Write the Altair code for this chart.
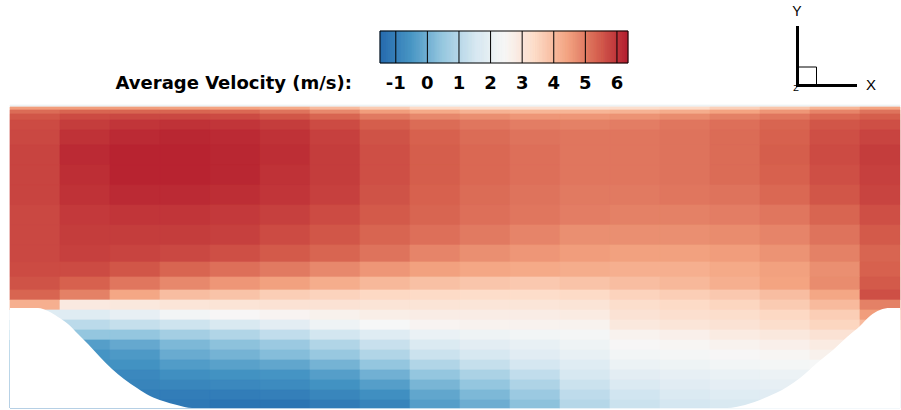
import altair as alt
import numpy as np
import pandas as pd

# ---------------- data ----------------
# cell column edges (streamwise, data units) and row edges (wall-normal, data units)
col_edges = [0, 50, 100, 150, 200, 250, 300, 350, 400, 450, 500, 550, 600, 650, 700, 750, 800, 850, 890]
row_edges = [303, 301, 298, 294, 288, 278, 263, 243, 223, 203, 183, 163, 146, 131, 118, 108,
             98, 88, 78, 68, 58, 48, 38, 28, 18, 8, 0]

# average velocity (m/s), one list per row from top to bottom, one value per column
velocity = [
    [2.2] * 18,
    [4.5, 4.5, 4.5, 4.45, 4.4, 4.3, 4.0, 3.7, 3.4, 3.3, 3.25, 3.25, 3.3, 3.4, 3.6, 3.8, 4.1, 4.4],
    [5.2, 5.3, 5.3, 5.3, 5.25, 5.1, 4.8, 4.5, 4.3, 4.15, 4.1, 4.1, 4.15, 4.25, 4.4, 4.6, 4.85, 5.1],
    [5.5, 5.65, 5.7, 5.7, 5.65, 5.5, 5.3, 5.0, 4.8, 4.7, 4.6, 4.6, 4.65, 4.75, 4.9, 5.05, 5.25, 5.4],
    [5.65, 5.85, 5.95, 6.0, 5.95, 5.85, 5.65, 5.4, 5.2, 5.05, 4.95, 4.9, 4.95, 5.05, 5.15, 5.3, 5.5, 5.6],
    [5.7, 6.0, 6.1, 6.15, 6.1, 6.0, 5.8, 5.55, 5.35, 5.2, 5.1, 5.05, 5.05, 5.1, 5.2, 5.35, 5.6, 5.75],
    [5.75, 6.1, 6.2, 6.2, 6.15, 6.05, 5.85, 5.6, 5.4, 5.25, 5.15, 5.05, 5.05, 5.1, 5.2, 5.4, 5.65, 5.85],
    [5.75, 6.05, 6.2, 6.2, 6.15, 6.0, 5.85, 5.6, 5.4, 5.25, 5.15, 5.05, 5.05, 5.1, 5.2, 5.35, 5.6, 5.8],
    [5.75, 6.0, 6.1, 6.1, 6.05, 5.95, 5.8, 5.55, 5.35, 5.2, 5.1, 5.0, 5.0, 5.05, 5.1, 5.25, 5.5, 5.75],
    [5.7, 5.9, 5.95, 5.95, 5.9, 5.8, 5.65, 5.45, 5.3, 5.15, 5.05, 4.95, 4.9, 4.9, 4.95, 5.05, 5.3, 5.6],
    [5.7, 5.85, 5.85, 5.85, 5.8, 5.65, 5.5, 5.3, 5.15, 5.0, 4.85, 4.7, 4.7, 4.7, 4.75, 4.85, 5.1, 5.45],
    [5.7, 5.8, 5.75, 5.7, 5.6, 5.45, 5.3, 5.1, 4.85, 4.7, 4.6, 4.5, 4.45, 4.45, 4.5, 4.65, 4.9, 5.3],
    [5.65, 5.65, 5.5, 5.3, 5.15, 5.0, 4.8, 4.6, 4.45, 4.35, 4.3, 4.25, 4.2, 4.2, 4.3, 4.45, 4.7, 5.35],
    [5.55, 5.35, 5.05, 4.8, 4.6, 4.45, 4.25, 4.05, 3.9, 3.8, 3.75, 3.85, 3.95, 4.05, 4.2, 4.4, 4.75, 5.45],
    [5.3, 4.9, 4.35, 3.95, 3.85, 3.65, 3.55, 3.45, 3.4, 3.35, 3.35, 3.4, 3.55, 3.65, 3.75, 3.95, 4.35, 5.6],
    [4.2, 2.9, 2.95, 3.05, 3.1, 3.15, 3.15, 3.1, 3.1, 3.05, 3.05, 3.1, 3.3, 3.4, 3.5, 3.7, 4.0, 4.9],
    [1.8, 1.8, 2.0, 2.3, 2.45, 2.55, 2.65, 2.75, 2.8, 2.8, 2.8, 2.85, 3.15, 3.25, 3.3, 3.45, 3.65, 4.5],
    [1.1, 1.1, 1.25, 1.4, 1.65, 1.9, 2.2, 2.4, 2.55, 2.6, 2.6, 2.6, 2.95, 3.05, 3.15, 3.3, 3.5, 4.0],
    [0.5, 0.5, 0.5, 0.75, 0.95, 1.2, 1.5, 1.8, 2.1, 2.2, 2.3, 2.35, 2.6, 2.7, 2.85, 2.95, 3.15, 3.5],
    [-0.3, -0.3, -0.1, 0.2, 0.4, 0.6, 0.95, 1.3, 1.7, 1.9, 2.05, 2.2, 2.45, 2.5, 2.6, 2.7, 2.85, 3.0],
    [-0.5, -0.5, -0.4, -0.05, 0.1, 0.3, 0.55, 0.95, 1.35, 1.6, 1.85, 2.05, 2.3, 2.35, 2.45, 2.5, 2.65, 2.8],
    [-0.55, -0.55, -0.55, -0.35, -0.25, -0.15, 0.1, 0.5, 0.95, 1.25, 1.55, 1.8, 2.15, 2.2, 2.3, 2.35, 2.4, 2.5],
    [-0.75, -0.75, -0.75, -0.6, -0.55, -0.5, -0.3, 0.05, 0.5, 0.85, 1.2, 1.6, 1.9, 2.0, 2.1, 2.15, 2.2, 2.3],
    [-0.85, -0.85, -0.85, -0.8, -0.75, -0.7, -0.55, -0.3, 0.15, 0.5, 0.9, 1.35, 1.7, 1.85, 1.95, 2.0, 2.05, 2.1],
    [-1.0, -1.0, -1.0, -1.0, -1.0, -0.95, -0.8, -0.6, -0.15, 0.2, 0.6, 1.15, 1.45, 1.7, 1.8, 1.85, 1.9, 1.9],
    [-1.1, -1.1, -1.1, -1.1, -1.2, -1.2, -1.05, -0.85, -0.3, 0.0, 0.4, 1.0, 1.35, 1.55, 1.65, 1.7, 1.7, 1.7],
]

# lower wall profile (streamwise position, wall height)
wall_x = [0, 28, 38, 48, 58, 68, 78, 90, 102, 114, 127, 140, 153, 167, 182,
          717, 735, 757, 777, 790, 807, 823, 837, 850, 860, 870, 880, 890]
wall_y = [100, 100, 97, 91, 84, 74, 64, 51, 39, 29, 20, 12, 7, 3, 0,
          0, 3, 11, 21, 30, 45, 58, 71, 82, 92, 98, 100, 100]

# colour bar
cb_min, cb_max = -1.5, 6.35
cb_ticks = [-1, 0, 1, 2, 3, 4, 5, 6]
cb_title = "Average Velocity (m/s):"
rdbu = ["#2166ac", "#4393c3", "#92c5de", "#d1e5f0", "#f7f7f7",
        "#fddbc7", "#f4a582", "#d6604d", "#b2182b"]

# ---------------- tables ----------------
cells = []
for i in range(len(row_edges) - 1):
    for j in range(len(col_edges) - 1):
        cells.append({"x0": col_edges[j], "x1": col_edges[j + 1],
                      "y0": row_edges[i + 1], "y1": row_edges[i],
                      "v": velocity[i][j]})
cells = pd.DataFrame(cells)
wall = pd.DataFrame({"x": wall_x, "y": wall_y})

step = 0.025
cb_v = np.arange(cb_min, cb_max, step)
cb = pd.DataFrame({"a": cb_v, "b": np.minimum(cb_v + step, cb_max), "v": cb_v + step / 2})
ticks = pd.DataFrame({"t": cb_ticks, "lab": [str(t) for t in cb_ticks]})

cdomain = list(np.linspace(cb_min, cb_max, len(rdbu)))
cscale = alt.Scale(domain=cdomain, range=rdbu, interpolate="rgb", clamp=True)

xs = alt.Scale(domain=[0, 890], range=[10, 900], nice=False, zero=False)
ys = alt.Scale(domain=[0, 303], range=[408, 105], nice=False, zero=False)
cbs = alt.Scale(domain=[cb_min, cb_max], range=[380, 628], nice=False, zero=False)

FONT = "DejaVu Sans"

field = alt.Chart(cells).mark_rect(strokeWidth=0.7).encode(
    x=alt.X("x0:Q", scale=xs, axis=None), x2="x1",
    y=alt.Y("y0:Q", scale=ys, axis=None), y2="y1",
    color=alt.Color("v:Q", scale=cscale, legend=None),
    stroke=alt.Stroke("v:Q", scale=cscale, legend=None),
)

mask = alt.Chart(wall).mark_area(color="white", opacity=1, interpolate="monotone").encode(
    x=alt.X("x:Q", scale=xs, axis=None),
    y=alt.Y("y:Q", scale=ys, axis=None),
    y2=alt.datum(0),
)

bar = alt.Chart(cb).mark_rect(strokeWidth=0.6).encode(
    x=alt.X("a:Q", scale=cbs, axis=None), x2="b",
    y=alt.value(31), y2=alt.value(63),
    color=alt.Color("v:Q", scale=cscale, legend=None),
    stroke=alt.Stroke("v:Q", scale=cscale, legend=None),
)

dividers = alt.Chart(ticks).mark_rule(color="black", strokeWidth=1).encode(
    x=alt.X("t:Q", scale=cbs, axis=None),
    y=alt.value(31), y2=alt.value(63),
)

border = alt.Chart(pd.DataFrame({"a": [cb_min], "b": [cb_max]})).mark_rect(
    filled=False, stroke="black", strokeWidth=1
).encode(
    x=alt.X("a:Q", scale=cbs, axis=None), x2="b",
    y=alt.value(31), y2=alt.value(63),
)

labels = alt.Chart(ticks).mark_text(
    font=FONT, fontWeight="bold", fontSize=18, baseline="alphabetic", align="center", color="black"
).encode(
    x=alt.X("t:Q", scale=cbs, axis=None), y=alt.value(89), text="lab:N",
)

title = alt.Chart(pd.DataFrame({"a": [cb_min], "s": [cb_title]})).mark_text(
    font=FONT, fontWeight="bold", fontSize=18, baseline="alphabetic", align="right", dx=-28, color="black"
).encode(
    x=alt.X("a:Q", scale=cbs, axis=None), y=alt.value(89), text="s:N",
)

one = pd.DataFrame({"k": [0]})
axis_v = alt.Chart(one).mark_rule(color="black", strokeWidth=3).encode(
    x=alt.value(797.5), y=alt.value(26), y2=alt.value(87))
axis_h = alt.Chart(one).mark_rule(color="black", strokeWidth=3).encode(
    x=alt.value(796), x2=alt.value(857), y=alt.value(85.5))
square = alt.Chart(one).mark_rect(filled=False, stroke="black", strokeWidth=1).encode(
    x=alt.value(798), x2=alt.value(816.5), y=alt.value(67), y2=alt.value(85))
triad_txt = alt.Chart(pd.DataFrame({"s": ["Y", "X", "Z"], "px": [797, 871, 796], "py": [12, 85, 88],
                                    "fs": [14, 15, 9]})).mark_text(
    font="Liberation Sans", baseline="middle", align="center", color="black"
).encode(
    x=alt.X("px:Q", scale=alt.Scale(domain=[0, 901], range=[0, 901]), axis=None),
    y=alt.Y("py:Q", scale=alt.Scale(domain=[0, 410], range=[0, 410]), axis=None),
    text="s:N", size=alt.Size("fs:Q", scale=None, legend=None),
)

chart = alt.layer(
    field, mask, bar, dividers, border, labels, title,
    axis_v, axis_h, square, triad_txt,
).resolve_scale(
    x="independent", y="independent"
).properties(
    width=901, height=410, autosize="none", padding=0, background="white"
).configure_view(stroke=None)

chart.save("out.html", embed_options={"renderer": "svg", "actions": False})
